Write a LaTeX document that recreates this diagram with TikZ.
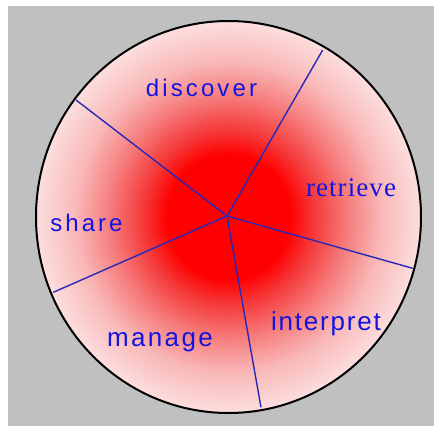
\documentclass[tikz,border=0pt]{standalone}
\usepackage{fontspec}
\setmainfont{Liberation Sans}
\newfontfamily\serifface{Liberation Serif}
\usetikzlibrary{positioning}
\definecolor{bggray}{RGB}{192,192,192}
\definecolor{lineblue}{RGB}{40,40,185}
\definecolor{textblue}{RGB}{20,20,225}
\definecolor{deepred}{RGB}{245,55,55}
\definecolor{midred}{RGB}{246,125,125}
\definecolor{palered}{RGB}{249,185,185}
\definecolor{rimpink}{RGB}{252,222,222}
\pgfdeclareradialshading{redglow}{\pgfpoint{0bp}{0bp}}{%
  color(0bp)=(red); color(8bp)=(red); color(11bp)=(deepred);
  color(15.5bp)=(midred); color(20bp)=(palered); color(25bp)=(rimpink);
  color(50bp)=(rimpink)}

\begin{document}
\begin{tikzpicture}[x=1pt, y=-1pt,
  spoke/.style={draw=lineblue, line width=1.4pt},
  rim/.style={draw=black, line width=2pt},
  lbl/.style={text=textblue, inner sep=0pt, anchor=base}
]
\useasboundingbox (0,0) rectangle (434,426);
\fill[white] (0,0) rectangle (434,426);
\fill[bggray] (8,6) rectangle (434,426);

% Disc
\coordinate (c) at (228.5,217);
\shade[shading=redglow] (c) ellipse [x radius=192.5, y radius=196];

% Hub and rim points
\coordinate (hub) at (227,216);
\coordinate (ne) at (322.7,50);
\coordinate (nw) at (76,100);
\coordinate (ea) at (412.7,268.3);
\coordinate (sw) at (53.3,292.3);
\coordinate (so) at (261,407.3);

% Sector lines
\draw[spoke] (hub) -- (ne);
\draw[spoke] (hub) -- (nw);
\draw[spoke] (hub) -- (ea);
\draw[spoke] (hub) -- (sw);
\draw[spoke] (hub) -- (so);

\draw[rim] (c) ellipse [x radius=192.5, y radius=196];

% Labels
\node[lbl, font=\fontsize{24}{27}\selectfont\addfontfeature{LetterSpace=13}] (discover) at (201.5,96.7) {discover};
\node[lbl, font=\serifface\fontsize{27}{30}\selectfont\addfontfeature{LetterSpace=4}] (retrieve) at (351,196.7) {retrieve};
\node[lbl, font=\fontsize{24}{27}\selectfont\addfontfeature{LetterSpace=12.5}] (share) at (86.5,231) {share};
\node[lbl, font=\fontsize{26}{29}\selectfont\addfontfeature{LetterSpace=7}] (interpret) at (326,330.5) {interpret};
\node[lbl, font=\fontsize{26}{29}\selectfont\addfontfeature{LetterSpace=9}] (manage) at (160,346.3) {manage};
\end{tikzpicture}
\end{document}
